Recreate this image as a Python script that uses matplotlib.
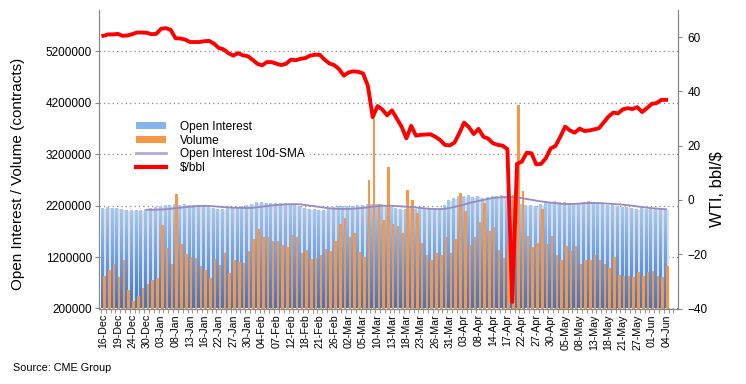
import matplotlib
matplotlib.use('Agg')
import matplotlib.pyplot as plt
import numpy as np
import pandas as pd
from matplotlib.patches import Patch
from matplotlib.lines import Line2D
from matplotlib.colors import LinearSegmentedColormap
from matplotlib.ticker import FixedLocator

plt.rcParams['font.family'] = ['Liberation Sans', 'DejaVu Sans']

# ---- data (one value per trading day, 16-Dec to 04-Jun) ----
tick_labels = ['16-Dec', '19-Dec', '24-Dec', '30-Dec', '03-Jan', '08-Jan', '13-Jan', '16-Jan',
               '22-Jan', '27-Jan', '30-Jan', '04-Feb', '07-Feb', '12-Feb', '18-Feb', '21-Feb',
               '26-Feb', '02-Mar', '05-Mar', '10-Mar', '13-Mar', '18-Mar', '23-Mar', '26-Mar',
               '31-Mar', '03-Apr', '08-Apr', '14-Apr', '17-Apr', '22-Apr', '27-Apr', '30-Apr',
               '05-May', '08-May', '13-May', '18-May', '21-May', '27-May', '01-Jun', '04-Jun']

# open interest, thousands of contracts
open_interest_k = [2130, 2150, 2140, 2140, 2110, 2090, 2100, 2100, 2100, 2120,
                   2130, 2160, 2180, 2190, 2200, 2210, 2190, 2210, 2190, 2200,
                   2200, 2180, 2150, 2130, 2120, 2120, 2150, 2160, 2160, 2170,
                   2190, 2220, 2250, 2250, 2230, 2240, 2230, 2230, 2230, 2210,
                   2190, 2170, 2130, 2120, 2110, 2100, 2090, 2130, 2150, 2170,
                   2170, 2180, 2180, 2190, 2190, 2210, 2220, 2220, 2220, 2190,
                   2150, 2130, 2120, 2120, 2130, 2120, 2130, 2130, 2140, 2140,
                   2140, 2200, 2280, 2320, 2370, 2360, 2380, 2350, 2370, 2330,
                   2350, 2370, 2360, 2380, 2370, 2360, 2330, 2220, 2200, 2190,
                   2180, 2220, 2250, 2250, 2270, 2250, 2250, 2240, 2240, 2240,
                   2250, 2260, 2250, 2240, 2210, 2190, 2190, 2180, 2160, 2150,
                   2140, 2120, 2130, 2120, 2110, 2120, 2120, 2110]

# volume, thousands of contracts
volume_k = [840, 940, 1070, 810, 1150, 560, 340, 450, 600, 680,
            760, 790, 1820, 1370, 1070, 2430, 1450, 1250, 1210, 1180,
            1020, 950, 800, 1170, 1050, 1280, 890, 1150, 1110, 1080,
            1310, 1560, 1750, 1580, 1580, 1510, 1520, 1430, 1400, 1620,
            1580, 1270, 1330, 1170, 1190, 1230, 1350, 1310, 1510, 1840,
            1950, 1580, 1660, 1290, 1210, 2690, 3890, 2230, 1910, 2950,
            1840, 1810, 1660, 2500, 2300, 2050, 1470, 1230, 1150, 1270,
            1230, 1580, 1270, 1560, 2440, 2090, 1430, 1580, 1880, 2250,
            1700, 1780, 1330, 1190, 1470, 2400, 4150, 2480, 1600, 1390,
            1470, 2130, 1450, 1600, 1230, 1140, 1410, 1310, 1410, 1060,
            1150, 1150, 1230, 1140, 1060, 980, 1210, 860, 840, 840,
            820, 900, 840, 910, 920, 840, 810, 1020]

# WTI, $/bbl
wti_price = [60.5, 61.0, 61.0, 61.2, 60.5, 60.6, 61.1, 61.7, 61.7, 61.6,
             61.1, 61.2, 63.1, 63.3, 62.7, 59.6, 59.5, 59.1, 58.2, 58.2,
             58.2, 58.5, 58.6, 57.6, 56.0, 55.5, 54.1, 53.2, 54.1, 53.3,
             53.0, 51.7, 50.2, 49.6, 50.8, 50.8, 50.2, 49.7, 50.2, 51.7,
             51.5, 52.0, 52.3, 53.2, 53.5, 53.5, 51.7, 50.3, 49.7, 48.2,
             45.8, 47.0, 47.4, 47.2, 46.6, 42.0, 30.5, 34.6, 33.3, 31.2,
             33.0, 30.0, 27.0, 22.7, 27.3, 23.7, 24.0, 24.1, 24.2, 23.3,
             22.1, 20.3, 20.1, 21.1, 24.6, 28.5, 26.8, 24.3, 26.2, 23.3,
             22.6, 20.9, 20.3, 20.0, 18.7, -37.6, 13.3, 14.1, 17.4, 17.2,
             13.1, 13.3, 15.4, 19.0, 19.9, 23.3, 27.0, 25.6, 24.8, 26.3,
             25.4, 25.6, 26.0, 26.4, 28.5, 30.7, 32.2, 31.9, 33.4, 33.8,
             33.5, 34.2, 32.4, 33.8, 35.4, 35.7, 36.9, 36.9]

oi = np.array(open_interest_k) * 1000
vol = np.array(volume_k) * 1000
price = np.array(wti_price)
x = np.arange(len(oi))
sma = pd.Series(oi).rolling(10).mean()

# ---- figure ----
W, H = 746, 384
fig = plt.figure(figsize=(W / 100, H / 100), dpi=100)
L, R, T, B = 99, 677.7, 10, 308.5
ax = fig.add_axes([L / W, 1 - B / H, (R - L) / W, (B - T) / H])

grey = '#868686'
ymin, ymax = 200000, 6000000

# gridlines
ax.set_yticks(np.arange(200000, 5200001, 1000000))
ax.yaxis.grid(True, linestyle=(0, (1, 2.5)), color='#8a8a8a', linewidth=0.9)
ax.set_axisbelow(True)

# shadow behind bars
ax.bar(x + 0.26, oi, width=0.52, color='#dedede', zorder=1.5, linewidth=0)

# open interest gradient bars
bars = ax.bar(x - 0.24, oi, width=0.5, zorder=2, linewidth=0)
cmap = LinearSegmentedColormap.from_list('oi', ['#3b77cc', '#6b9fe4', '#a6c9f4'])
grad = np.linspace(0, 1, 128).reshape(-1, 1)
for b in bars:
    xb, w, h = b.get_x(), b.get_width(), b.get_height()
    ax.imshow(grad, extent=[xb, xb + w, ymin, h], origin='lower', cmap=cmap,
              aspect='auto', zorder=2, interpolation='bilinear')
    b.set_facecolor('none')

# volume bars
ax.bar(x + 0.26, vol, width=0.52, color='#f79646', zorder=3, linewidth=0)

# SMA
ax.plot(x, sma, color='#9a88c2', lw=1.3, zorder=4)

ax.set_xlim(-0.9, 119.4)
ax.set_ylim(ymin, ymax)
ax.set_yticklabels([f'{int(v)}' for v in np.arange(200000, 5200001, 1000000)], fontsize=8.5)

# x ticks
ax.set_xticks(np.arange(0, len(oi), 3))
ax.set_xticklabels(tick_labels, rotation=90, fontsize=7.7)
ax.xaxis.set_minor_locator(FixedLocator(np.arange(-0.5, 120, 1)))
ax.tick_params(axis='x', which='major', length=0, pad=4)
ax.tick_params(axis='x', which='minor', length=3, color=grey)
ax.tick_params(axis='y', length=3, color=grey, pad=2)

ax.spines['top'].set_visible(False)
for s in ['left', 'bottom', 'right']:
    ax.spines[s].set_color(grey)

# price on right axis
ax2 = ax.twinx()
ax2.plot(x, price, color='#ff0000', lw=2.8, zorder=5, solid_joinstyle='round')
ax2.set_ylim(-40, 70)
ax2.set_yticks(np.arange(-40, 61, 20))
ax2.tick_params(axis='y', length=3, color=grey, labelsize=8.5, pad=4)
ax2.spines['top'].set_visible(False)
for s in ['left', 'bottom', 'right']:
    ax2.spines[s].set_color(grey)

handles = [Patch(facecolor='#86b4ec', edgecolor='none'),
           Patch(facecolor='#f79646', edgecolor='none'),
           Line2D([], [], color='#b4a7d6', lw=2),
           Line2D([], [], color='#ff0000', lw=3)]
labels = ['Open Interest', 'Volume', 'Open Interest 10d-SMA', '$/bbl']
leg = ax2.legend(handles, labels, loc='upper left', bbox_to_anchor=(0.045, 0.665),
                 frameon=True, framealpha=1, edgecolor='none', facecolor='white',
                 fontsize=8.6, handlelength=2.5, handleheight=0.55, labelspacing=0.15,
                 handletextpad=1.2, borderpad=0.4, fancybox=False)

fig.text(18 / W, 1 - 174 / H, 'Open Interest / Volume (contracts)', rotation=90,
         ha='center', va='center', fontsize=11)
fig.text(718 / W, 1 - 189 / H, 'WTI, bbl/$', rotation=90, ha='center', va='center',
         fontsize=12)
fig.text(13 / W, 1 - 368 / H, 'Source: CME Group', ha='left', va='center', fontsize=7.8)

fig.savefig('out.png', dpi=100)
